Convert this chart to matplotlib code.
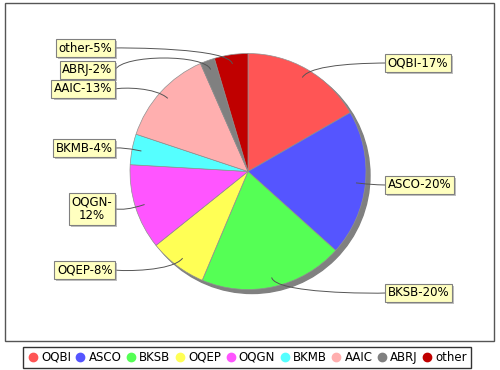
import numpy as np
import matplotlib.pyplot as plt
import matplotlib.patheffects as pe
from matplotlib.lines import Line2D
from matplotlib.path import Path
from matplotlib.patches import PathPatch, Circle, Rectangle

W, H = 500, 370

# data
names = ["OQBI", "ASCO", "BKSB", "OQEP", "OQGN", "BKMB", "AAIC", "ABRJ", "other"]
shares = [16.7, 20.0, 19.7, 7.9, 11.7, 4.2, 13.3, 2.0, 4.6]
labels = ["OQBI-17%", "ASCO-20%", "BKSB-20%", "OQEP-8%", "OQGN-\n12%",
          "BKMB-4%", "AAIC-13%", "ABRJ-2%", "other-5%"]
colors = ["#FF5555", "#5555FF", "#55FF55", "#FFFF55", "#FF55FF",
          "#55FFFF", "#FFAFAF", "#808080", "#C00000"]

# label box layout (pixels from top of image)
label_y = [63, 185, 293, 270, 209, 148, 89, 70, 48]
left_edge_x = 115   # right edge of boxes left of the pie
right_edge_x = 385  # left edge of boxes right of the pie

cx, cy, R = 248, H - 171.5, 118
link_frac = 0.92
link_r = R * 1.06

fig = plt.figure(figsize=(5, 3.7), dpi=100)
ax = fig.add_axes([0, 0, 1, 1])

# plot area border
ax.add_patch(Rectangle((5, H - 341), 489, 338, fill=False, edgecolor="#555555", lw=1))

# pie shadow
ax.add_patch(Circle((cx + 4, cy - 4), R, color="#808080", zorder=1))

wedges, _ = ax.pie(shares, colors=colors, startangle=90, counterclock=False,
                   center=(cx, cy), radius=R,
                   wedgeprops=dict(edgecolor="#909090", linewidth=0.5, zorder=2))
for w in wedges:
    w.set_zorder(2)

fs = 8.5
pad = 0.22
pad_px = pad * fs * 100 / 72

for w, lab, ly in zip(wedges, labels, label_y):
    mid = np.deg2rad((w.theta1 + w.theta2) / 2)
    c, s = np.cos(mid), np.sin(mid)
    link = (cx + c * R * link_frac, cy + s * R * link_frac)
    elbow = (cx + c * link_r, cy + s * link_r)
    y = H - ly
    if c >= 0:
        start = (right_edge_x, y)
        ctrl = (cx + link_r, elbow[1])
        tx, ha = right_edge_x + pad_px, "left"
    else:
        start = (left_edge_x, y)
        ctrl = (cx - link_r, elbow[1])
        tx, ha = left_edge_x - pad_px, "right"
    path = Path([start, ctrl, elbow, link],
                [Path.MOVETO, Path.CURVE4, Path.CURVE4, Path.CURVE4])
    ax.add_patch(PathPatch(path, fill=False, edgecolor="#555555", lw=0.7, zorder=3))
    t = ax.text(tx, y, lab, ha=ha, va="center", multialignment="center",
                fontsize=fs, color="black", zorder=4, linespacing=1.05,
                bbox=dict(boxstyle=f"square,pad={pad}", facecolor="#FFFFC0",
                          edgecolor="#808080", linewidth=0.8))
    t.get_bbox_patch().set_path_effects(
        [pe.SimplePatchShadow(offset=(1.5, -1.5), shadow_rgbFace="#979797", alpha=0.6),
         pe.Normal()])

ax.set_xlim(0, W)
ax.set_ylim(0, H)
ax.set_aspect("auto")
ax.axis("off")

handles = [Line2D([], [], ls="", marker="o", markersize=6, color=c) for c in colors]
leg = fig.legend(handles, names, loc="center", bbox_to_anchor=(247 / W, 1 - 357.5 / H),
                 ncol=9, fontsize=8.5, frameon=True, fancybox=False, edgecolor="black",
                 handletextpad=0.2, columnspacing=0.3, borderpad=0.3,
                 handlelength=1.0, borderaxespad=0)
leg.get_frame().set_linewidth(1.0)

fig.savefig("out.png", dpi=100, facecolor="white")
